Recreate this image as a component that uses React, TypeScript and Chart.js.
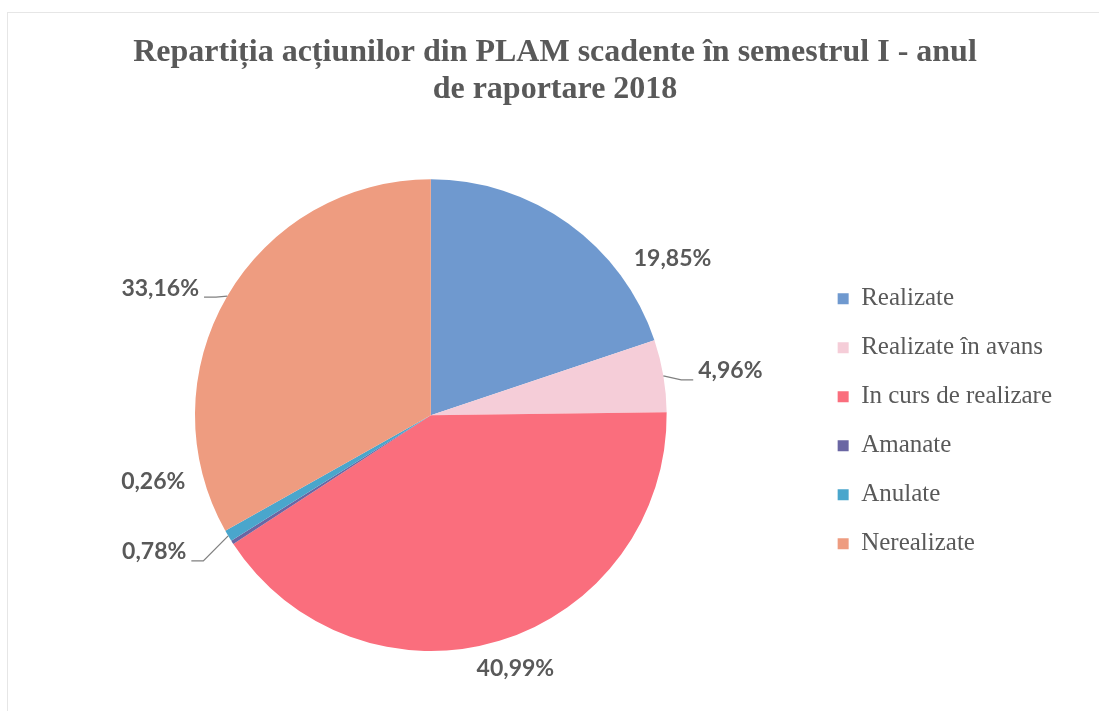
import React, { useEffect, useRef } from "react";
import { Chart, registerables } from "chart.js";

Chart.register(...registerables);

const titleLines = [
  "Repartiția acțiunilor din PLAM scadente în semestrul I - anul",
  "de raportare 2018",
];
const categories = [
  "Realizate",
  "Realizate în avans",
  "In curs de realizare",
  "Amanate",
  "Anulate",
  "Nerealizate",
];
const shares = [19.85, 4.96, 40.99, 0.26, 0.78, 33.16];
const valueLabels = ["19,85%", "4,96%", "40,99%", "0,26%", "0,78%", "33,16%"];
const sliceColors = ["#6f99cf", "#f5cdd8", "#fa6e7d", "#6a66a3", "#4aa6cc", "#ee9c80"];

// label placement relative to the slice edge at its mid-angle
const labelPlacement = [
  { dx: 104, dy: 35, leader: false },
  { dx: 67, dy: -5, leader: true },
  { dx: 16, dy: 28, leader: false },
  { dx: -79, dy: -61, leader: false },
  { dx: -74, dy: 16, leader: true },
  { dx: -67, dy: -8, leader: true },
];

const sliceLabelPlugin = {
  id: "sliceLabels",
  afterDatasetsDraw(chart: any) {
    const ctx = chart.ctx;
    const meta = chart.getDatasetMeta(0);
    ctx.save();
    ctx.font = "bold 23px Lato";
    ctx.fillStyle = "#595959";
    ctx.strokeStyle = "#808080";
    ctx.lineWidth = 1.3;
    ctx.textAlign = "center";
    ctx.textBaseline = "middle";
    meta.data.forEach((arc: any, i: number) => {
      const { x, y, startAngle, endAngle, outerRadius } = arc.getProps(
        ["x", "y", "startAngle", "endAngle", "outerRadius"],
        true
      );
      const mid = (startAngle + endAngle) / 2;
      const ex = x + Math.cos(mid) * outerRadius;
      const ey = y + Math.sin(mid) * outerRadius;
      const p = labelPlacement[i];
      const lx = ex + p.dx;
      const ly = ey + p.dy;
      const w = ctx.measureText(valueLabels[i]).width;
      if (p.leader) {
        const side = p.dx > 0 ? -1 : 1;
        const endX = lx + side * (w / 2 + 5);
        const lineY = ly + 9;
        const elbowX = endX + side * 12;
        ctx.beginPath();
        ctx.moveTo(ex, ey);
        ctx.lineTo(elbowX, lineY);
        ctx.lineTo(endX, lineY);
        ctx.stroke();
      }
      ctx.fillText(valueLabels[i], lx, ly);
    });
    ctx.restore();
  },
};

export default function App() {
  const canvasRef = useRef<HTMLCanvasElement | null>(null);

  useEffect(() => {
    if (!canvasRef.current) return;
    const chart = new Chart(canvasRef.current, {
      type: "pie",
      data: {
        labels: categories,
        datasets: [
          {
            data: shares,
            backgroundColor: sliceColors,
            borderWidth: 0,
          },
        ],
      },
      options: {
        responsive: false,
        animation: false,
        layout: { padding: { left: 48, right: 37, top: 0, bottom: 60 } },
        plugins: {
          tooltip: { enabled: false },
          title: {
            display: true,
            text: titleLines,
            color: "#595959",
            font: { family: "'Liberation Serif', serif", size: 32, weight: "bold", lineHeight: 1.13 },
            padding: { top: 35, bottom: 72 },
          },
          legend: {
            position: "right",
            align: "center",
            fullSize: false,
            title: { display: true, text: "", font: { size: 10, lineHeight: 1.2 }, padding: 0 },
            labels: {
              boxWidth: 11,
              boxHeight: 11,
              padding: 24,
              color: "#595959",
              font: { family: "'Liberation Serif', serif", size: 25 },
            },
          },
        },
      },
      plugins: [sliceLabelPlugin],
    });
    return () => chart.destroy();
  }, []);

  return (
    <div style={{ position: "absolute", left: 0, top: 0, width: 1099, height: 711, overflow: "hidden", background: "#fff" }}>
      <div
        style={{
          position: "absolute",
          left: 7,
          top: 12,
          width: 1092,
          height: 699,
          borderTop: "1px solid #e6e6e6",
          borderLeft: "1px solid #e6e6e6",
        }}
      />
      <canvas ref={canvasRef} width={1099} height={711} style={{ position: "absolute", left: 0, top: 0 }} />
    </div>
  );
}
